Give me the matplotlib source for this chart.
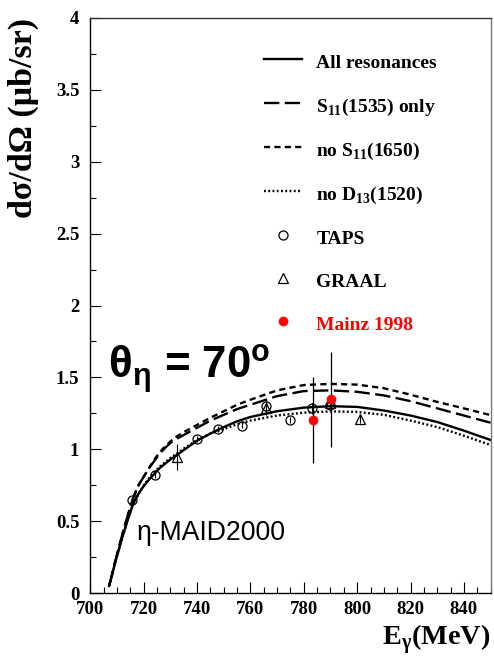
import matplotlib
matplotlib.use("Agg")
import matplotlib.pyplot as plt
from matplotlib.ticker import MultipleLocator
from matplotlib.lines import Line2D

# ---- data ----
E_curve = [707, 708, 709, 710, 712, 714, 716, 718, 720, 722, 724, 726, 728, 730,
           732, 735, 740, 745, 750, 755, 760, 770, 780, 790, 800, 810, 820, 830,
           840, 850]
all_res = [0.05, 0.12, 0.19, 0.26, 0.39, 0.51, 0.62, 0.69, 0.745, 0.79, 0.83, 0.87,
           0.90, 0.93, 0.955, 0.995, 1.06, 1.11, 1.155, 1.195, 1.225, 1.265, 1.29,
           1.30, 1.295, 1.27, 1.235, 1.19, 1.13, 1.065]
s11_only = [0.05, 0.12, 0.20, 0.27, 0.41, 0.54, 0.66, 0.75, 0.81, 0.87, 0.92, 0.97,
            1.01, 1.045, 1.07, 1.10, 1.15, 1.20, 1.24, 1.28, 1.31, 1.37, 1.405,
            1.41, 1.40, 1.375, 1.335, 1.285, 1.235, 1.185]
no_s11_1650 = [0.05, 0.12, 0.20, 0.27, 0.41, 0.54, 0.66, 0.75, 0.81, 0.87, 0.93, 0.98,
               1.02, 1.055, 1.085, 1.12, 1.17, 1.22, 1.265, 1.31, 1.345, 1.41, 1.447,
               1.455, 1.45, 1.425, 1.38, 1.33, 1.285, 1.238]
no_d13 = [0.05, 0.12, 0.19, 0.26, 0.39, 0.51, 0.62, 0.69, 0.75, 0.80, 0.84, 0.88,
          0.91, 0.94, 0.965, 1.005, 1.065, 1.11, 1.14, 1.175, 1.20, 1.235, 1.255,
          1.264, 1.26, 1.24, 1.20, 1.155, 1.095, 1.03]

taps_E = [715.7, 724.2, 739.8, 747.9, 756.9, 766.0, 775.0, 783.1, 790.0]
taps_y = [0.647, 0.82, 1.07, 1.14, 1.165, 1.30, 1.205, 1.285, 1.305]
taps_err = [0.02, 0.02, 0.02, 0.02, 0.02, 0.05, 0.02, 0.04, 0.04]

graal_E = [732.3, 766.0, 790.0, 801.0]
graal_y = [0.945, 1.29, 1.32, 1.21]
graal_err = [0.09, 0.05, 0.04, 0.03]

mainz_E = [783.5, 790.1]
mainz_y = [1.205, 1.347]
mainz_err = [0.30, 0.33]

xticks = [700, 720, 740, 760, 780, 800, 820, 840]
yticks = [0, 0.5, 1, 1.5, 2, 2.5, 3, 3.5, 4]
ytick_labels = ["0", "0.5", "1", "1.5", "2", "2.5", "3", "3.5", "4"]

SERIF = ["Liberation Serif", "DejaVu Serif"]
SANS = ["Liberation Sans", "DejaVu Sans"]

fig = plt.figure(figsize=(4.94, 6.62), dpi=100)
ax = fig.add_axes([0.183, 0.104, 0.810, 0.869])

lw = 1.7
ls_long = (0, (6.5, 2.3))
ls_short = (0, (2.6, 1.8))
ls_dot = (0, (0.8, 1.0))
ax.plot(E_curve, all_res, color="black", lw=lw, ls="-")
ax.plot(E_curve, s11_only, color="black", lw=lw, ls=ls_long)
ax.plot(E_curve, no_s11_1650, color="black", lw=lw, ls=ls_short)
ax.plot(E_curve, no_d13, color="black", lw=lw, ls=ls_dot)

ms = 6.5
ax.errorbar(taps_E, taps_y, yerr=taps_err, fmt="o", mfc="none", mec="black",
            ecolor="black", elinewidth=0.8, ms=ms, mew=0.9, capsize=0)
ax.errorbar(graal_E, graal_y, yerr=graal_err, fmt="^", mfc="none", mec="black",
            ecolor="black", elinewidth=0.8, ms=ms, mew=0.9, capsize=0)
ax.errorbar(mainz_E, mainz_y, yerr=mainz_err, fmt="o", mfc="red", mec="red",
            ecolor="black", elinewidth=0.9, ms=ms, mew=0.5, capsize=0)

ax.set_xlim(700, 850)
ax.set_ylim(0, 4)
ax.set_xticks(xticks)
ax.set_yticks(yticks)
ax.set_yticklabels(ytick_labels)
ax.xaxis.set_minor_locator(MultipleLocator(5))
ax.yaxis.set_minor_locator(MultipleLocator(0.25))
ax.tick_params(which="both", direction="in", top=False, right=False, width=0.8)
ax.tick_params(which="major", length=8)
ax.tick_params(which="minor", length=4)
ax.tick_params(axis="x", pad=6)
ax.tick_params(axis="y", pad=8)
for lab in ax.get_xticklabels() + ax.get_yticklabels():
    lab.set_fontfamily(SERIF)
    lab.set_fontweight("bold")
    lab.set_fontsize(13.5)
for sp in ax.spines.values():
    sp.set_linewidth(1.0)
ax.spines["right"].set_color("#777777")
ax.spines["top"].set_color("#333333")

fig.text(0.048, 0.821, "dσ/dΩ (μb/sr)", rotation=90, ha="center", va="center",
         fontfamily=SERIF, fontweight="bold", fontsize=24.5)
fig.text(0.993, 0.033, "E$_\\mathregular{γ}$(MeV)", ha="right", va="center",
         fontfamily=SERIF, fontweight="bold", fontsize=20.3)

ax.text(0.043, 0.39, "θ$_\\mathregular{η}$ = 70$^\\mathregular{o}$", transform=ax.transAxes,
        ha="left", va="center", fontfamily=SANS, fontweight="bold", fontsize=31.5)
ax.text(0.115, 0.104, "η-MAID2000", transform=ax.transAxes, ha="left", va="center",
        fontfamily=SANS, fontsize=19.2)

handles = [
    Line2D([], [], color="black", lw=lw, ls="-"),
    Line2D([], [], color="black", lw=lw, ls=ls_long),
    Line2D([], [], color="black", lw=lw, ls=ls_short),
    Line2D([], [], color="black", lw=lw, ls=ls_dot),
    Line2D([], [], ls="none", marker="o", mfc="none", mec="black", ms=ms, mew=0.9),
    Line2D([], [], ls="none", marker="^", mfc="none", mec="black", ms=ms, mew=0.9),
    Line2D([], [], ls="none", marker="o", mfc="red", mec="red", ms=ms, mew=0.5),
]
labels = ["All resonances", "S$_\\mathregular{11}$(1535) only",
          "no S$_\\mathregular{11}$(1650)", "no D$_\\mathregular{13}$(1520)",
          "TAPS", "GRAAL", "Mainz 1998"]
leg = ax.legend(handles, labels, loc="upper left", bbox_to_anchor=(0.4335, 0.944),
                frameon=False, prop={"family": SERIF, "weight": "bold", "size": 14},
                handlelength=1.95, handletextpad=0.75, handleheight=1.5,
                labelspacing=1.01, borderaxespad=0, borderpad=0, numpoints=1)
for t in leg.get_texts():
    if t.get_text() == "Mainz 1998":
        t.set_color("red")

fig.savefig("out.png", dpi=100)
